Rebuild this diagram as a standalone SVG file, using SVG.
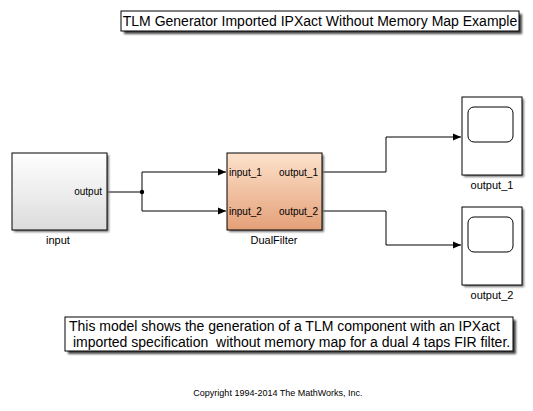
<svg xmlns="http://www.w3.org/2000/svg" width="533" height="411" viewBox="0 0 533 411">
<defs>
<style>
.lbl{font-family:"Liberation Sans",Arial,sans-serif;font-size:10px;fill:#000}
.name{font-family:"Liberation Sans",Arial,sans-serif;font-size:11px;fill:#000;text-anchor:middle}
.note{font-family:"Liberation Sans",Arial,sans-serif;font-size:14px;fill:#000;white-space:pre}
.blk{stroke:#000;stroke-width:1}
.wire{fill:none;stroke:#000;stroke-width:1}
</style>
<linearGradient id="gGray" x1="0" y1="0" x2="0" y2="1">
<stop offset="0" stop-color="#ffffff"/><stop offset="1" stop-color="#dcdcdc"/>
</linearGradient>
<linearGradient id="gOrange" x1="0" y1="0" x2="0" y2="1">
<stop offset="0" stop-color="#fde2cc"/><stop offset="1" stop-color="#e4a078"/>
</linearGradient>
<filter id="sh" x="-20%" y="-20%" width="150%" height="150%">
<feGaussianBlur stdDeviation="1.2"/>
</filter>
<marker id="arr" markerWidth="8" markerHeight="8" refX="8" refY="4" orient="auto" markerUnits="userSpaceOnUse">
<path d="M0,0.5 L8,4 L0,7.5 Z" fill="#000"/>
</marker>
</defs>
<rect width="533" height="411" fill="#fff"/>

<g id="title">
<rect x="124" y="14" width="398" height="20" fill="#444" filter="url(#sh)"/>
<rect x="121" y="11" width="398" height="20" fill="#fff" class="blk"/>
<text x="320" y="26" class="note" text-anchor="middle">TLM Generator Imported IPXact Without Memory Map Example</text>
</g>

<g id="connectors">
<path class="wire" d="M107,192 H142 V172 H226" marker-end="url(#arr)"/>
<path class="wire" d="M142,192 V211 H226" marker-end="url(#arr)"/>
<circle cx="142" cy="192" r="2.2" fill="#000"/>
<path class="wire" d="M322,172 H386 V137 H461" marker-end="url(#arr)"/>
<path class="wire" d="M322,211 H386 V245 H461" marker-end="url(#arr)"/>
</g>

<g id="input">
<rect x="14" y="155" width="95" height="77" fill="#777" filter="url(#sh)"/>
<rect x="12" y="153" width="95" height="77" fill="url(#gGray)" class="blk"/>
<text x="102" y="195" class="lbl" text-anchor="end">output</text>
<text x="58" y="244" class="name">input</text>
</g>

<g id="DualFilter">
<rect x="229" y="155" width="95" height="77" fill="#777" filter="url(#sh)"/>
<rect x="227" y="153" width="95" height="77" fill="url(#gOrange)" class="blk"/>
<text x="229" y="176" class="lbl">input_1</text>
<text x="229" y="215" class="lbl">input_2</text>
<text x="318" y="176" class="lbl" text-anchor="end">output_1</text>
<text x="318" y="215" class="lbl" text-anchor="end">output_2</text>
<text x="274" y="244" class="name">DualFilter</text>
</g>

<g id="output_1">
<rect x="464" y="99" width="60" height="78" fill="#777" filter="url(#sh)"/>
<rect x="462" y="97" width="60" height="78" fill="#fff" class="blk"/>
<rect x="468" y="107" width="45" height="35" rx="6" fill="#fff" class="blk"/>
<text x="492" y="189" class="name">output_1</text>
</g>

<g id="output_2">
<rect x="464" y="209" width="60" height="78" fill="#777" filter="url(#sh)"/>
<rect x="462" y="207" width="60" height="78" fill="#fff" class="blk"/>
<rect x="468" y="217" width="45" height="35" rx="6" fill="#fff" class="blk"/>
<text x="492" y="299" class="name">output_2</text>
</g>

<g id="note">
<rect x="68" y="320" width="448" height="34" fill="#444" filter="url(#sh)"/>
<rect x="65" y="317" width="448" height="34" fill="#fff" class="blk"/>
<text x="69" y="331" class="note" xml:space="preserve">This model shows the generation of a TLM component with an IPXact</text>
<text x="69" y="347" class="note" xml:space="preserve"> imported specification  without memory map for a dual 4 taps FIR filter.</text>
</g>

<g id="copyright">
<text x="278" y="396" class="lbl" style="font-size:9px" text-anchor="middle">Copyright 1994-2014 The MathWorks, Inc.</text>
</g>
</svg>
